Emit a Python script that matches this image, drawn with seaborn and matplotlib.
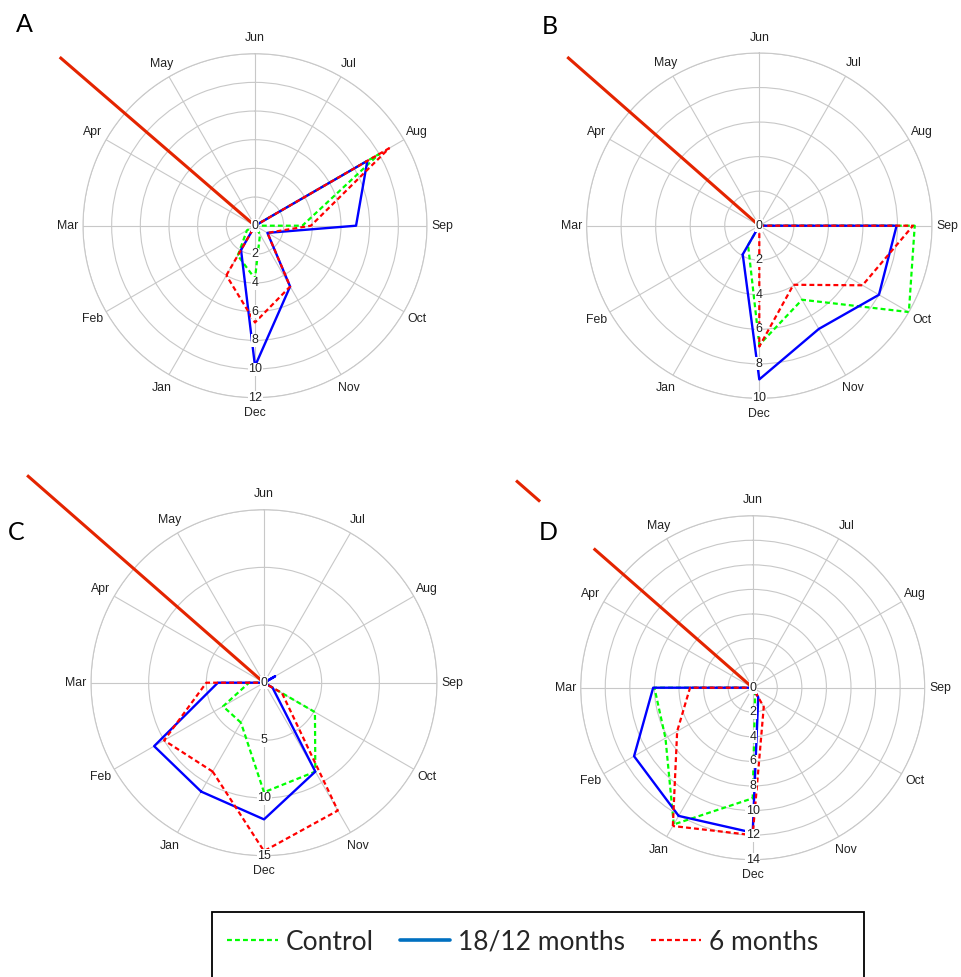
import numpy as np
import pandas as pd
import matplotlib
matplotlib.use("Agg")
import matplotlib.pyplot as plt
import seaborn as sns
from matplotlib.lines import Line2D
from matplotlib.patches import Rectangle

# ---------------- data ----------------
months = ['Jan', 'Feb', 'Mar', 'Apr', 'May', 'Jun', 'Jul', 'Aug', 'Sep', 'Oct', 'Nov', 'Dec']

control_A = [2.4, 0.65, 0, 0, 0, 0, 0, 10.0, 3.3, 0, 0.7, 3.7]
long_A    = [1.95, 0, 0, 0, 0, 0, 0, 9.05, 7.05, 1.0, 4.9, 9.8]
six_A     = [4.0, 0, 0, 0, 0, 0, 0, 10.8, 3.9, 1.0, 4.9, 6.75]

control_B = [1.3, 0, 0, 0, 0, 0, 0, 0, 9.0, 10.0, 4.95, 6.9]
long_B    = [1.92, 0, 0, 0, 0, 0, 0, 0, 7.95, 8.0, 6.9, 8.9]
six_B     = [0, 0, 0, 0, 0, 0, 0, 0, 8.9, 6.9, 3.95, 7.0]

control_C = [4.0, 4.1, 1.3, 0, 0, 0, 0, 0, 0, 5.1, 8.9, 9.5]
long_C    = [10.9, 11.0, 4.0, 0, 0, 0, 0, 1.1, 0, 0.85, 8.9, 11.85]
six_C     = [8.9, 10.0, 5.0, 0, 0, 0, 0, 0, 0, 1.8, 12.8, 14.6]

control_D = [12.85, 8.2, 8.0, 0, 0, 0, 0, 0, 0, 0, 0.4, 9.0]
long_D    = [12.05, 11.15, 8.1, 0, 0, 0, 0, 0, 0, 0, 0.9, 11.8]
six_D     = [13.0, 7.1, 5.1, 0, 0, 0, 0, 0, 0, 0, 1.8, 12.0]

rings_A = [2, 4, 6, 8, 10, 12]
rings_B = [2, 4, 6, 8, 10]
rings_C = [5, 10, 15]
rings_D = [2, 4, 6, 8, 10, 12, 14]

panel_letters = ['A', 'B', 'C', 'D']
series_names = ['Control', '18/12 months', '6 months']

# stray line seen in the original (angle clockwise from Jun, radial segments)
stray_angle_deg = [310.8, 311.3, 311.2, 311.2]
stray_segments = [[(0, 18.0)], [(0, 14.8)], [(0, 27.3)], [(0, 17.2), (23.0, 25.6)]]

# ---------------- style ----------------
sns.set_theme(style='white')
plt.rcParams['font.family'] = ['Liberation Sans', 'DejaVu Sans']

W, H = 961, 977
fig = plt.figure(figsize=(W / 100, H / 100), dpi=100)

# axes placement in pixels: (center x, center y, radius)
geo = [(255.0, 225.7, 172.0), (759.3, 225.7, 172.7), (264.0, 682.7, 173.0), (752.7, 687.7, 172.0)]
letter_pos = [(24, 24), (550, 27), (16, 532), (548, 532)]

data = [
    (control_A, long_A, six_A, rings_A),
    (control_B, long_B, six_B, rings_B),
    (control_C, long_C, six_C, rings_C),
    (control_D, long_D, six_D, rings_D),
]

GREEN = '#00FF00'
BLUE = '#0000FF'
RED = '#FF0000'
GRID = '#C8C8C8'
dash = (0, (2.2, 1.4))


def theta_of(m):
    idx = months.index(m)
    return np.deg2rad(((idx - 5) % 12) * 30)


month_theta = [theta_of(m) for m in months]

for k, (ctrl, lng, six, rings) in enumerate(data):
    cx, cy, rad = geo[k]
    rect = [(cx - rad) / W, 1 - (cy + rad) / H, 2 * rad / W, 2 * rad / H]
    ax = fig.add_axes(rect, projection='polar')
    ax.set_theta_zero_location('N')
    ax.set_theta_direction(-1)

    styles = [(ctrl, GREEN, dash, 1.6), (lng, BLUE, '-', 1.7), (six, RED, dash, 1.6)]
    for vals, col, ls, lw in styles:
        df = pd.DataFrame({'theta': month_theta + [month_theta[0]],
                           'r': list(vals) + [vals[0]]})
        sns.lineplot(data=df, x='theta', y='r', sort=False, estimator=None,
                     color=col, linewidth=lw, linestyle=ls, ax=ax, zorder=3)

    # stray line
    th = np.deg2rad(stray_angle_deg[k])
    for r0, r1 in stray_segments[k]:
        ax.plot([th, th], [r0, r1], color='#E42400', lw=2.2, clip_on=False, zorder=4,
                solid_capstyle='butt')

    rmax = rings[-1]
    ax.set_ylim(0, rmax)
    ax.set_yticks(rings)
    ax.set_yticklabels([])
    ax.set_xticks(month_theta)
    ax.set_xticklabels(months, fontsize=8.8, color='#222222')
    ax.tick_params(axis='x', pad=-2)
    ax.set_xlabel('')
    ax.set_ylabel('')
    ax.grid(True, color=GRID, linewidth=0.8)
    ax.spines['polar'].set_color(GRID)
    ax.spines['polar'].set_linewidth(0.8)
    ax.set_facecolor('white')

    for v in [0] + rings:
        ax.text(np.pi, v, str(v), ha='center', va='center', fontsize=9, color='#222222',
                bbox=dict(facecolor='white', edgecolor='none', pad=0.4), zorder=6)

    lx, ly = letter_pos[k]
    fig.text(lx / W, 1 - ly / H, panel_letters[k], ha='center', va='center',
             fontsize=18, family=['Lato', 'DejaVu Sans'], color='black')

# legend box and legend
box_bottom = -0.03
box_top = 1 - 912 / H
fig.patches.append(Rectangle((212 / W, box_bottom), (864 - 212) / W, box_top - box_bottom,
                             transform=fig.transFigure, fill=False, edgecolor='black',
                             linewidth=1.3))
handles = [Line2D([], [], color=GREEN, lw=1.6, linestyle=dash),
           Line2D([], [], color='#0070C0', lw=2.6),
           Line2D([], [], color=RED, lw=1.6, linestyle=dash)]
fig.legend(handles, series_names, loc='center', bbox_to_anchor=(523 / W, 1 - 942 / H),
           ncol=3, frameon=False, handlelength=1.9, handletextpad=0.3, columnspacing=1.0,
           prop={'family': ['Lato', 'DejaVu Sans'], 'size': 19})

fig.savefig('out.png', dpi=100, facecolor='white')
